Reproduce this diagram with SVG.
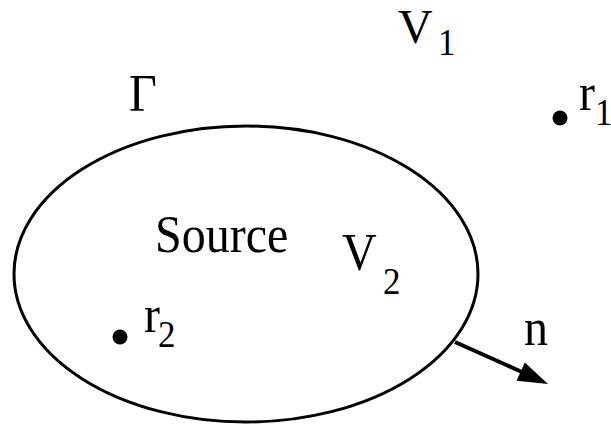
<svg xmlns="http://www.w3.org/2000/svg" width="611" height="427" viewBox="0 0 611 427">
<style>
text{font-family:"Liberation Serif","Times New Roman",serif;fill:#000}
.m{font-size:48px}
.s{font-size:35px}
</style>
<rect width="611" height="427" fill="#fff"/>
<g id="region">
<ellipse cx="246" cy="274" rx="232" ry="148" fill="none" stroke="#000" stroke-width="3"/>
</g>
<g id="labels">
<text class="m" x="398" y="43">V</text>
<text class="s" transform="translate(438,55) scale(1,1.08)">1</text>
<text class="m" transform="translate(129,111) scale(1,1.1)">Γ</text>
<text class="m" transform="translate(155,252) scale(1,1.1)">Source</text>
<text class="m" transform="translate(342,270) scale(1,1.1)">V</text>
<text class="s" transform="translate(383,294) scale(1,1.1)">2</text>
<text class="m" transform="translate(524,345) scale(1,1.1)">n</text>
</g>
<g id="r1">
<circle cx="560" cy="118" r="7.5" fill="#000"/>
<text class="m" transform="translate(579,110) scale(1,1.1)">r</text>
<text class="s" transform="translate(595,125) scale(1,1.1)">1</text>
</g>
<g id="r2">
<circle cx="120" cy="337" r="7.5" fill="#000"/>
<text class="m" transform="translate(144,332) scale(1,1.1)">r</text>
<text class="s" transform="translate(158,347) scale(1,1.1)">2</text>
</g>
<g id="connectors">
<line x1="455" y1="342" x2="522" y2="372" stroke="#000" stroke-width="4"/>
<polygon points="548,384 516.6,380.7 524.8,362.5" fill="#000"/>
</g>
</svg>
